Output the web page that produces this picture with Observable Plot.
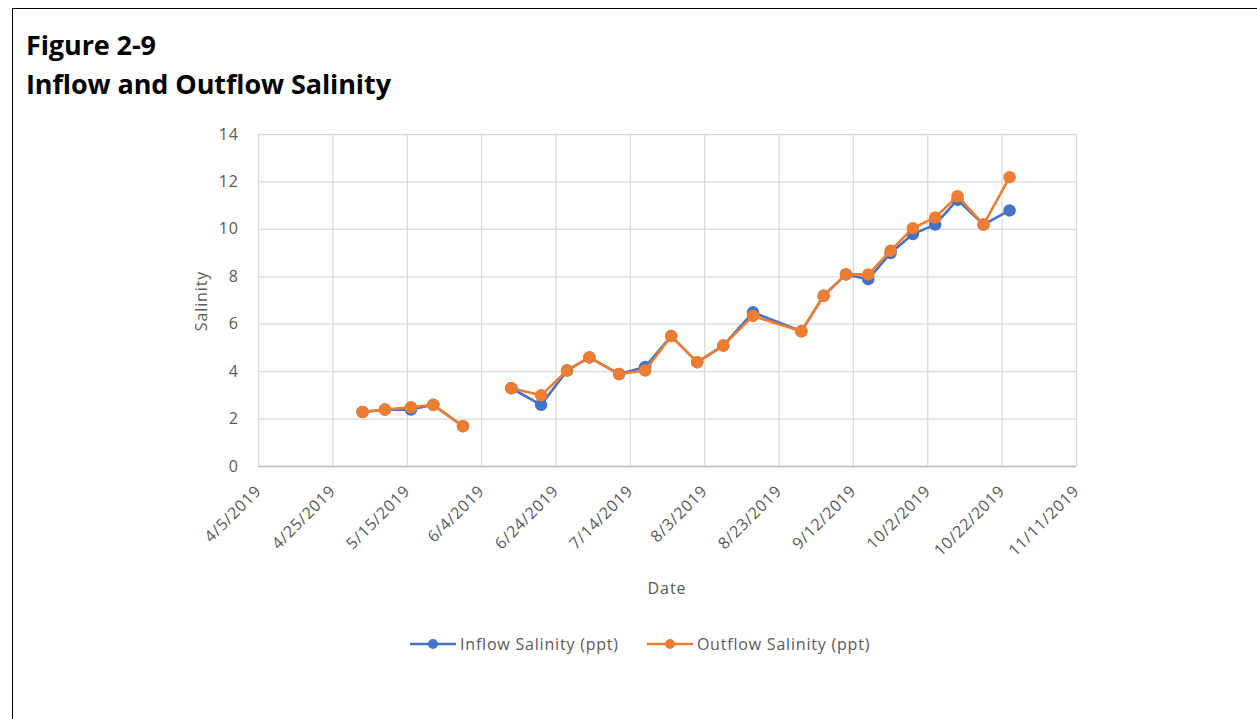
<!DOCTYPE html>
<html>
<head>
<meta charset="utf-8">
<script src="https://cdn.jsdelivr.net/npm/d3@7"></script>
<script src="https://cdn.jsdelivr.net/npm/@observablehq/plot@0.6"></script>
<style>
  html, body { margin: 0; padding: 0; background: #fff; }
  body { width: 1257px; height: 719px; position: relative; overflow: hidden; font-family: "Open Sans", "Noto Sans", sans-serif; }
  #frame { position: absolute; left: 12px; top: 8px; width: 1300px; height: 800px; border-left: 1px solid #000; border-top: 1px solid #000; }
  .title { position: absolute; left: 26px; font-weight: 700; font-size: 27px; color: #000; letter-spacing: -0.1px; white-space: nowrap; }
  #chart { position: absolute; left: 0; top: 110px; }
  .axlabel { position: absolute; color: #595959; font-size: 16px; letter-spacing: 0.9px; white-space: nowrap; }
  #legend { position: absolute; top: 633px; left: 410px; display: flex; align-items: center; font-size: 16px; letter-spacing: 0.8px; color: #595959; white-space: nowrap; }
  .item { display: flex; align-items: center; margin-right: 28px; }
  .item svg { margin-right: 4px; }
</style>
</head>
<body>
<div id="frame"></div>
<div class="title" style="top:26px">Figure 2-9</div>
<div class="title" style="top:65px">Inflow and Outflow Salinity</div>
<div id="chart"></div>
<div class="axlabel" style="left:201px; top:301px; transform: translate(-50%,-50%) rotate(-90deg);">Salinity</div>
<div class="axlabel" style="left:667px; top:588px; transform: translate(-50%,-50%);">Date</div>
<div id="legend"></div>
<script>
const dates = ["2019-05-03","2019-05-09","2019-05-16","2019-05-22","2019-05-30",
  "2019-06-12","2019-06-20","2019-06-27","2019-07-03","2019-07-11","2019-07-18","2019-07-25",
  "2019-08-01","2019-08-08","2019-08-16","2019-08-29","2019-09-04","2019-09-10","2019-09-16",
  "2019-09-22","2019-09-28","2019-10-04","2019-10-10","2019-10-17","2019-10-24"];
const inflow = [2.3,2.4,2.4,2.6,1.7, 3.3,2.6,4.05,4.6,3.9,4.2,5.5, 4.4,5.1,6.5,5.7,7.2,8.1,7.9, 9.0,9.8,10.2,11.25,10.2,10.8];
const outflow = [2.3,2.4,2.5,2.6,1.7, 3.3,3.0,4.05,4.6,3.9,4.05,5.5, 4.4,5.1,6.35,5.7,7.2,8.1,8.1, 9.1,10.05,10.5,11.4,10.2,12.2];
// a gap between 5/30 and 6/12 (break in the series)
const segment = [0,0,0,0,0, 1,1,1,1,1,1,1, 1,1,1,1,1,1,1, 1,1,1,1,1,1];
const tickDates = ["2019-04-05","2019-04-25","2019-05-15","2019-06-04","2019-06-24","2019-07-14",
  "2019-08-03","2019-08-23","2019-09-12","2019-10-02","2019-10-22","2019-11-11"];
const yTicks = [0,2,4,6,8,10,12,14];
const seriesNames = ["Inflow Salinity (ppt)", "Outflow Salinity (ppt)"];
const seriesColors = ["#4472C4", "#ED7D31"];

const parse = d3.utcParse("%Y-%m-%d");
const fmt = d3.utcFormat("%-m/%-d/%Y");
const rows = [];
[inflow, outflow].forEach((vals, s) => {
  vals.forEach((v, i) => rows.push({date: parse(dates[i]), value: v, series: seriesNames[s], seg: seriesNames[s] + segment[i]}));
});
const ticks = tickDates.map(parse);

const plot = Plot.plot({
  width: 1257,
  height: 500,
  marginLeft: 258,
  marginRight: 181,
  marginTop: 24,
  marginBottom: 144,
  style: {fontFamily: "'Open Sans', 'Noto Sans', sans-serif", fontSize: "16px", letterSpacing: "0.7px", color: "#595959", background: "transparent"},
  x: {type: "utc", domain: [ticks[0], ticks[ticks.length - 1]], ticks: ticks, tickFormat: fmt, tickRotate: -45, tickSize: 0, tickPadding: 22, label: null},
  y: {domain: [0, 14], ticks: yTicks, tickSize: 0, tickPadding: 20, label: null},
  color: {domain: seriesNames, range: seriesColors},
  marks: [
    Plot.gridX(ticks, {stroke: "#D9D9D9", strokeOpacity: 1, strokeWidth: 1.3}),
    Plot.gridY(yTicks, {stroke: "#D9D9D9", strokeOpacity: 1, strokeWidth: 1.3}),
    Plot.ruleY([0], {stroke: "#BFBFBF", strokeWidth: 1.5}),
    Plot.line(rows.filter(r => r.series === seriesNames[0]), {x: "date", y: "value", z: "seg", stroke: seriesColors[0], strokeWidth: 2.6}),
    Plot.dot(rows.filter(r => r.series === seriesNames[0]), {x: "date", y: "value", r: 5.5, fill: seriesColors[0], stroke: seriesColors[0]}),
    Plot.line(rows.filter(r => r.series === seriesNames[1]), {x: "date", y: "value", z: "seg", stroke: seriesColors[1], strokeWidth: 2.6}),
    Plot.dot(rows.filter(r => r.series === seriesNames[1]), {x: "date", y: "value", r: 5.5, fill: seriesColors[1], stroke: seriesColors[1]})
  ]
});
document.getElementById("chart").appendChild(plot);

const legend = document.getElementById("legend");
seriesNames.forEach((name, i) => {
  const item = document.createElement("div");
  item.className = "item";
  item.innerHTML = `<svg width="46" height="14"><line x1="0" y1="7" x2="46" y2="7" stroke="${seriesColors[i]}" stroke-width="2.6"/><circle cx="23" cy="7" r="5" fill="${seriesColors[i]}"/></svg><span>${name}</span>`;
  legend.appendChild(item);
});
</script>
</body>
</html>
